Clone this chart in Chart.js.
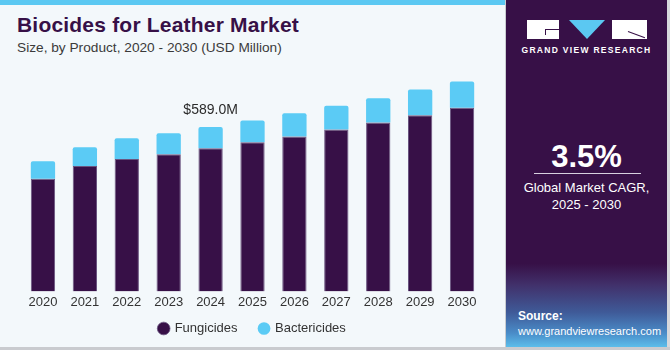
<!DOCTYPE html>
<html>
<head>
<meta charset="utf-8">
<script src="https://cdn.jsdelivr.net/npm/chart.js@4/dist/chart.umd.min.js"></script>
<style>
  html,body{margin:0;padding:0;}
  body{width:670px;height:350px;overflow:hidden;background:#fff;font-family:"Liberation Sans",Arial,sans-serif;position:relative;}
  #left{position:absolute;left:0;top:0;width:505px;height:347px;background:#f3f8fb;border-right:1px solid #c8ccd0;}
  #strip{position:absolute;left:0;top:0;width:505px;height:5px;background:#5bc8f2;}
  #bottomline{position:absolute;left:0;top:347px;width:670px;height:3px;background:#c9cbcf;}
  #title{position:absolute;left:17px;top:13px;font-size:21px;font-weight:bold;color:#371047;letter-spacing:0.2px;font-family:"Liberation Sans",Arial,sans-serif;}
  #subtitle{position:absolute;left:17px;top:40px;font-size:13.7px;color:#3a3a3a;}
  #chartwrap{position:absolute;left:0;top:0;width:505px;height:347px;}
  #right{position:absolute;left:506px;top:0;width:161px;height:347px;
    background:linear-gradient(to bottom,#371047 0%,#371047 76%,#41306a 82%,#3f5a98 90%,#4a8cc8 96%,#5bbdea 100%);}
  #rightedge{position:absolute;left:667px;top:0;width:3px;height:350px;background:#d6d8dc;}
  .w{position:absolute;background:#fff;}
  #tri{position:absolute;left:569px;top:20px;width:0;height:0;border-left:18px solid transparent;border-right:18px solid transparent;border-top:19px solid #5bc8f2;}
  #gvr{position:absolute;left:506px;top:45px;width:161px;text-align:center;color:#fff;font-size:8.5px;font-weight:bold;letter-spacing:1.3px;}
  #cagr{position:absolute;left:506px;top:139px;width:161px;text-align:center;color:#fff;font-size:31px;font-weight:bold;}
  #hr{position:absolute;left:534px;top:173px;width:107px;height:1px;background:#d8d0e0;}
  #cagrtxt{position:absolute;left:506px;top:179px;width:161px;text-align:center;color:#fff;font-size:13px;line-height:17px;}
  #src1{position:absolute;left:518px;top:309px;color:#fff;font-size:12px;font-weight:bold;}
  #src2{position:absolute;left:518px;top:325px;color:#fff;font-size:11px;}
</style>
</head>
<body>
<div id="left"></div>
<div id="strip"></div>
<div id="title">Biocides for Leather Market</div>
<div id="subtitle">Size, by Product, 2020 - 2030 (USD Million)</div>
<div id="chartwrap"><canvas id="c" width="505" height="347"></canvas></div>
<div id="right"></div>
<div id="rightedge"></div>
<div id="bottomline"></div>
<!-- logo -->
<div class="w" style="left:527px;top:20px;width:32px;height:19px;"></div>
<div style="position:absolute;left:545px;top:29px;width:14px;height:1px;background:#371047;"></div>
<div style="position:absolute;left:545px;top:29px;width:1px;height:6px;background:#371047;"></div>
<div id="tri"></div>
<div class="w" style="left:612px;top:20px;width:35px;height:19px;"></div>
<div style="position:absolute;left:628px;top:31px;width:18px;height:1px;background:#371047;transform:rotate(20deg);transform-origin:left center;"></div>
<div id="gvr">GRAND VIEW RESEARCH</div>
<div id="cagr">3.5%</div>
<div id="hr"></div>
<div id="cagrtxt">Global Market CAGR,<br>2025 - 2030</div>
<div id="src1">Source:</div>
<div id="src2">www.grandviewresearch.com</div>
<script>
const years = ["2020","2021","2022","2023","2024","2025","2026","2027","2028","2029","2030"];
const fungicides = [404, 449, 474, 491, 513, 534, 555, 580, 605, 631, 658];
const bactericides = [62, 67, 75, 76, 76, 78, 83, 85, 87, 92, 94];
const annotatedIndex = 4;
const annotationText = "$589.0M";

const labelPlugin = {
  id: 'annot',
  afterDatasetsDraw(chart) {
    const ctx = chart.ctx;
    const x = chart.scales.x.getPixelForValue(annotatedIndex);
    const total = fungicides[annotatedIndex] + bactericides[annotatedIndex];
    const y = chart.scales.y.getPixelForValue(total);
    ctx.save();
    ctx.font = '14px "Liberation Sans", Arial, sans-serif';
    ctx.fillStyle = '#2b2b2b';
    ctx.textAlign = 'center';
    ctx.textBaseline = 'bottom';
    ctx.fillText(annotationText, x, y - 10);
    ctx.restore();
  }
};

new Chart(document.getElementById('c'), {
  type: 'bar',
  data: {
    labels: years,
    datasets: [
      {label: 'Fungicides', data: fungicides, backgroundColor: '#371047', borderColor:'#6a5580', borderWidth: {top:1,left:1,right:1,bottom:0}, borderSkipped:false, barPercentage: 0.58, categoryPercentage: 1},
      {label: 'Bactericides', data: bactericides, backgroundColor: '#5bcbf5', borderWidth: 0, borderRadius: {topLeft:2, topRight:2}, borderSkipped:'bottom', barPercentage: 0.58, categoryPercentage: 1}
    ]
  },
  options: {
    responsive: false,
    animation: false,
    devicePixelRatio: 1,
    layout: {padding: {top: 60, left: 22, right: 22, bottom: 2}},
    scales: {
      x: {stacked: true, grid: {display: false, drawTicks: false}, border: {display: false},
          ticks: {color: '#333', font: {size: 13, family: '"Liberation Sans", Arial, sans-serif'}, padding: 3}},
      y: {stacked: true, display: false, min: 0, max: 829}
    },
    plugins: {
      legend: {position: 'bottom', labels: {usePointStyle: true, pointStyle: 'circle', boxWidth: 9, boxHeight: 9, padding: 9, color: '#333', font: {size: 13, family: '"Liberation Sans", Arial, sans-serif'},
        generateLabels(chart) {
          const items = Chart.defaults.plugins.legend.labels.generateLabels(chart);
          items.forEach((it, i) => { if (i < items.length - 1) it.text = it.text + '\u2003'; });
          return items;
        }}},
      tooltip: {enabled: false}
    }
  },
  plugins: [labelPlugin]
});
</script>
</body>
</html>
